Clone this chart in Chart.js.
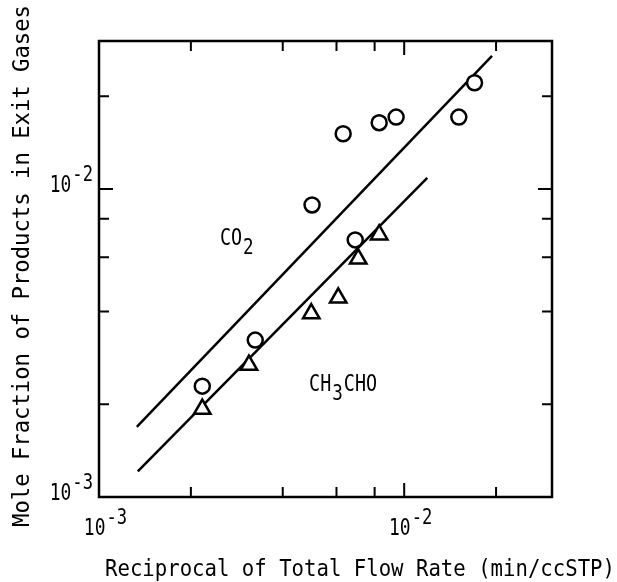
<!DOCTYPE html>
<html>
<head>
<meta charset="utf-8">
<script src="https://cdn.jsdelivr.net/npm/chart.js@4"></script>
<style>
  body { margin: 0; background: #fff; }
  #wrap { width: 617px; height: 582px; }
</style>
</head>
<body>
<div id="wrap"><canvas id="chart" width="617" height="582"></canvas></div>
<script>
// data (log-log)
const co2X = [2.18e-3, 3.25e-3, 4.99e-3, 6.31e-3, 6.91e-3, 8.28e-3, 9.41e-3, 1.51e-2, 1.70e-2];
const co2Y = [2.29e-3, 3.23e-3, 8.87e-3, 1.51e-2, 6.83e-3, 1.64e-2, 1.71e-2, 1.71e-2, 2.21e-2];
const ch3choX = [2.18e-3, 3.10e-3, 4.96e-3, 6.08e-3, 7.07e-3, 8.28e-3];
const ch3choY = [1.93e-3, 2.68e-3, 3.94e-3, 4.43e-3, 5.93e-3, 7.10e-3];

// fitted lines (end points)
const co2FitX = [1.33e-3, 1.94e-2];
const co2FitY = [1.69e-3, 2.70e-2];
const ch3choFitX = [1.34e-3, 1.19e-2];
const ch3choFitY = [1.21e-3, 1.086e-2];

// axes
const xRange = [1e-3, 3.05e-2];
const yRange = [1e-3, 3.02e-2];
const tickValues = [2e-3, 4e-3, 6e-3, 8e-3, 1e-2, 2e-2];
const majorTicks = [1e-2];
const xTickLabels = [{ v: 1e-3, base: "10", exp: "-3" }, { v: 1e-2, base: "10", exp: "-2" }];
const yTickLabels = [{ v: 1e-3, base: "10", exp: "-3" }, { v: 1e-2, base: "10", exp: "-2" }];
const xTitle = "Reciprocal of Total Flow Rate (min/ccSTP)";
const yTitle = "Mole Fraction of Products in Exit Gases";

const FONT = '"DejaVu Sans Mono", "Liberation Mono", monospace';

function toPoints(xs, ys) {
    return xs.map((x, i) => ({ x: x, y: ys[i] }));
}

// draw narrow text; sx squeezes it horizontally
function drawText(ctx, text, x, y, size, sx, align) {
    ctx.save();
    ctx.font = size + "px " + FONT;
    const w = ctx.measureText(text).width * sx;
    let left = x;
    if (align === "center") left = x - w / 2;
    if (align === "right") left = x - w;
    ctx.translate(left, y);
    ctx.scale(sx, 1);
    ctx.textAlign = "left";
    ctx.textBaseline = "alphabetic";
    ctx.fillText(text, 0, 0);
    ctx.restore();
    return w;
}

function textWidth(ctx, text, size, sx) {
    ctx.save();
    ctx.font = size + "px " + FONT;
    const w = ctx.measureText(text).width * sx;
    ctx.restore();
    return w;
}

// 10^n label: base then raised exponent
function drawPow(ctx, base, exp, x, y, align) {
    const bw = textWidth(ctx, base, 23, 0.78);
    const ew = textWidth(ctx, exp, 22, 0.78);
    let left = x;
    if (align === "center") left = x - (bw + ew) / 2;
    if (align === "right") left = x - (bw + ew);
    drawText(ctx, base, left, y, 23, 0.78, "left");
    drawText(ctx, exp, left + bw + 1, y - 11, 22, 0.78, "left");
}

const framePlugin = {
    id: "frame",
    afterDatasetsDraw(chart) {
        const ctx = chart.ctx;
        const a = chart.chartArea;
        const xs = chart.scales.x;
        const ys = chart.scales.y;
        ctx.save();
        ctx.strokeStyle = "#000";
        ctx.fillStyle = "#000";
        ctx.lineWidth = 2.5;
        ctx.strokeRect(a.left, a.top, a.right - a.left, a.bottom - a.top);

        // inward ticks on all four sides
        ctx.lineWidth = 2;
        tickValues.forEach(v => {
            const len = majorTicks.includes(v) ? 14 : 10;
            const px = xs.getPixelForValue(v);
            const py = ys.getPixelForValue(v);
            ctx.beginPath();
            ctx.moveTo(px, a.bottom); ctx.lineTo(px, a.bottom - len);
            ctx.moveTo(px, a.top); ctx.lineTo(px, a.top + len);
            ctx.moveTo(a.left, py); ctx.lineTo(a.left + len, py);
            ctx.moveTo(a.right, py); ctx.lineTo(a.right - len, py);
            ctx.stroke();
        });

        xTickLabels.forEach(t => {
            drawPow(ctx, t.base, t.exp, xs.getPixelForValue(t.v) + 6, a.bottom + 38, "center");
        });
        yTickLabels.forEach(t => {
            drawPow(ctx, t.base, t.exp, a.left - 7, ys.getPixelForValue(t.v) + 3, "right");
        });

        // axis titles
        const tw = textWidth(ctx, xTitle, 23, 1);
        drawText(ctx, xTitle, 360, 576, 23, 510 / tw, "center");
        ctx.save();
        ctx.translate(29, 266);
        ctx.rotate(-Math.PI / 2);
        const yw = textWidth(ctx, yTitle, 23, 1);
        drawText(ctx, yTitle, 0, 0, 23, 522 / yw, "center");
        ctx.restore();

        // series names
        let px = xs.getPixelForValue(2.49e-3);
        let py = ys.getPixelForValue(6.58e-3);
        let w = drawText(ctx, "CO", px, py, 23, 0.8, "left");
        drawText(ctx, "2", px + w + 1, py + 9, 22, 0.8, "left");
        px = xs.getPixelForValue(4.88e-3);
        py = ys.getPixelForValue(2.21e-3);
        w = drawText(ctx, "CH", px, py, 23, 0.8, "left");
        const w2 = drawText(ctx, "3", px + w + 1, py + 9, 22, 0.8, "left");
        drawText(ctx, "CHO", px + w + w2 + 2, py, 23, 0.8, "left");
        ctx.restore();
    }
};

const lineStyle = {
    showLine: true,
    borderColor: "#000",
    borderWidth: 2.5,
    pointRadius: 0,
    fill: false,
    order: 2
};

new Chart(document.getElementById("chart"), {
    type: "scatter",
    data: {
        datasets: [
            Object.assign({ label: "CO2 fit", data: toPoints(co2FitX, co2FitY) }, lineStyle),
            Object.assign({ label: "CH3CHO fit", data: toPoints(ch3choFitX, ch3choFitY) }, lineStyle),
            {
                label: "CO2",
                data: toPoints(co2X, co2Y),
                pointStyle: "circle",
                pointRadius: 7.5,
                borderWidth: 2.5,
                borderColor: "#000",
                backgroundColor: "#fff",
                order: 1
            },
            {
                label: "CH3CHO",
                data: toPoints(ch3choX, ch3choY),
                pointStyle: "triangle",
                pointRadius: 9.5,
                borderWidth: 2.5,
                borderColor: "#000",
                backgroundColor: "#fff",
                order: 1
            }
        ]
    },
    options: {
        responsive: false,
        animation: false,
        layout: { padding: { left: 99, top: 41, right: 65, bottom: 85 } },
        plugins: {
            legend: { display: false },
            tooltip: { enabled: false }
        },
        scales: {
            x: { type: "logarithmic", min: xRange[0], max: xRange[1], display: false },
            y: { type: "logarithmic", min: yRange[0], max: yRange[1], display: false }
        }
    },
    plugins: [framePlugin]
});
</script>
</body>
</html>
